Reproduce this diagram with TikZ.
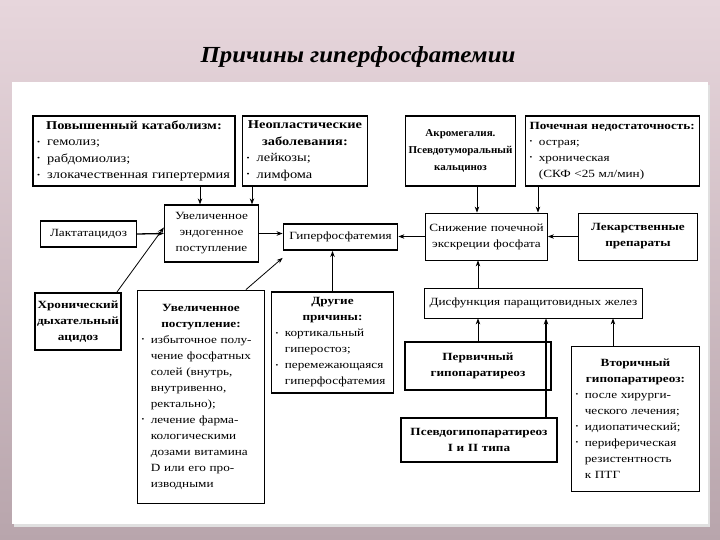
\documentclass[tikz,border=0pt]{standalone}
\usepackage{fontspec}
\setmainfont{Liberation Serif}[FakeStretch=1.2]
\newfontfamily\titlefont{Liberation Serif}[FakeStretch=1.08]
\usetikzlibrary{arrows.meta,positioning,calc}
\definecolor{bgtop}{RGB}{231,214,220}
\definecolor{bgbottom}{RGB}{184,165,172}
\newcommand\itm{\noindent\makebox[0.85em][l]{\raisebox{0.3ex}{\scalebox{0.6}{\textbullet}}}}
\newcommand\cnt{\noindent\hspace*{0.85em}}
\newcommand\hd[1]{{\centering\bfseries #1\par}}

\begin{document}
\begin{tikzpicture}[x=1pt, y=-1pt,
    box/.style={draw, line width=0.9pt, inner sep=2pt, align=center, font=\fontsize{11}{16}\selectfont},
    heavy/.style={box, line width=1.8pt},
    listbox/.style={box, align=left, inner xsep=4pt},
    large/.style={font=\fontsize{12}{16.5}\selectfont},
    arrow/.style={-{Stealth[length=6pt, width=4.5pt]}, line width=0.8pt},
    thickarrow/.style={arrow, line width=1.6pt}]
  \useasboundingbox (0,0) rectangle (720,540);
  % background and panel
  \shade[top color=bgtop, bottom color=bgbottom] (0,0) rectangle (720,540);
  \fill[black!12] (14,85) rectangle (710,527);
  \fill[white] (12,82) rectangle (708,524);
  \node[font=\titlefont\bfseries\itshape\fontsize{23}{27}\selectfont] (title) at (358,57) {Причины гиперфосфатемии};

  % top row
  \node[listbox, large, text width=194pt, minimum height=70pt, line width=1.4pt] (catab) at (134,151)
    {\hd{Повышенный катаболизм:}\itm гемолиз;\\ \itm рабдомиолиз;\\ \itm злокачественная гипертермия};
  \node[listbox, large, text width=117pt, minimum height=70pt, line width=1.4pt] (neopl) at (305,151)
    {\hd{Неопластические\\ заболевания:}\itm лейкозы;\\ \itm лимфома};
  \node[heavy, font=\fontsize{10.5}{17}\selectfont\addfontfeature{FakeStretch=1.05}, text width=106pt, minimum height=70pt] (acrom) at (460.5,151)
    {\bfseries Акромегалия.\\ Псевдотуморальный\\ кальциноз};
  \node[listbox, text width=166pt, minimum height=70pt, line width=1.4pt] (renal) at (612.5,151)
    {{\bfseries Почечная недостаточность:}\\ \itm острая;\\ \itm хроническая\\ \cnt(СКФ <25 мл/мин)};

  % middle row
  \node[box, text width=92pt, minimum height=26pt, line width=1.3pt] (lactat) at (88.5,234) {Лактатацидоз};
  \node[box, text width=90pt, minimum height=57pt, line width=1.3pt] (endog) at (211.5,233.5)
    {Увеличенное\\ эндогенное\\ поступление};
  \node[heavy, text width=110pt, minimum height=26pt] (hyper) at (340.5,237) {Гиперфосфатемия};
  \node[box, text width=118pt, minimum height=47pt, line width=0.8pt] (excr) at (486.5,236.5)
    {Снижение почечной\\ экскреции фосфата};
  \node[box, text width=115pt, minimum height=47pt, line width=0.8pt] (drugs) at (638,236.5)
    {\bfseries Лекарственные\\ препараты};

  % lower part
  \node[heavy, text width=82pt, minimum height=57pt] (resp) at (78,321.5)
    {\bfseries Хронический\\ дыхательный\\ ацидоз};
  \node[listbox, text width=119pt, minimum height=213pt] (intake) at (201,396.5)
    {\hd{Увеличенное\\ поступление:}\itm избыточное полу-\\
     \cnt чение фосфатных\\ \cnt солей (внутрь,\\ \cnt внутривенно,\\ \cnt ректально);\\
     \itm лечение фарма-\\ \cnt кологическими\\ \cnt дозами витамина\\ \cnt D или его про-\\ \cnt изводными};
  \node[listbox, text width=114pt, minimum height=101pt, line width=1.3pt] (other) at (332.5,342.5)
    {\hd{Другие\\ причины:}\itm кортикальный\\ \cnt гиперостоз;\\
     \itm перемежающаяся\\ \cnt гиперфосфатемия};
  \node[box, text width=214pt, minimum height=30pt, line width=0.8pt] (parat) at (533.5,303)
    {Дисфункция паращитовидных желез};
  \node[heavy, text width=142pt, minimum height=48pt] (prim) at (478,366)
    {\bfseries Первичный\\ гипопаратиреоз};
  \node[heavy, text width=152pt, minimum height=44pt] (pseudo) at (479,440)
    {\bfseries Псевдогипопаратиреоз\\ I и II типа};
  \node[listbox, text width=120pt, minimum height=145pt] (second) at (635.5,418.5)
    {\hd{Вторичный\\ гипопаратиреоз:}\itm после хирурги-\\
     \cnt ческого лечения;\\ \itm идиопатический;\\ \itm периферическая\\ \cnt резистентность\\ \cnt к ПТГ};

  % connectors
  \draw[arrow] ([xshift=66pt]catab.south) -- ([xshift=-11.5pt]endog.north);
  \draw[arrow] ([xshift=-53pt]neopl.south) -- ([xshift=40.5pt]endog.north);
  \draw[arrow] ([xshift=16.5pt]acrom.south) -- ([xshift=-9.5pt]excr.north);
  \draw[arrow] ([xshift=-74.5pt]renal.south) -- ([xshift=51.5pt]excr.north);
  \draw[arrow, line width=1.3pt] (lactat.east) -- (endog.west);
  \draw[arrow, line width=1.3pt] (endog.east) -- (endog.east -| hyper.west);
  \draw[arrow] ([xshift=-5pt]resp.north east) -- ([yshift=6pt]endog.west);
  \draw[arrow] ([xshift=45pt]intake.north) -- ([yshift=-7pt]hyper.south west);
  \draw[thickarrow] (other.north) -- (other.north |- hyper.south);
  \draw[arrow] (excr.west) -- (excr.west -| hyper.east);
  \draw[arrow] (drugs.west) -- (excr.east);
  \draw[arrow] (parat.north -| prim.north) -- (excr.south -| prim.north);
  \draw[arrow] (prim.north) -- (prim.north |- parat.south);
  \coordinate (p1) at ([xshift=67pt]pseudo.north);
  \draw[thickarrow] (p1) -- (p1 |- parat.south);
  \coordinate (p2) at ([xshift=-22.5pt]second.north);
  \draw[arrow] (p2) -- (p2 |- parat.south);
\end{tikzpicture}
\end{document}
